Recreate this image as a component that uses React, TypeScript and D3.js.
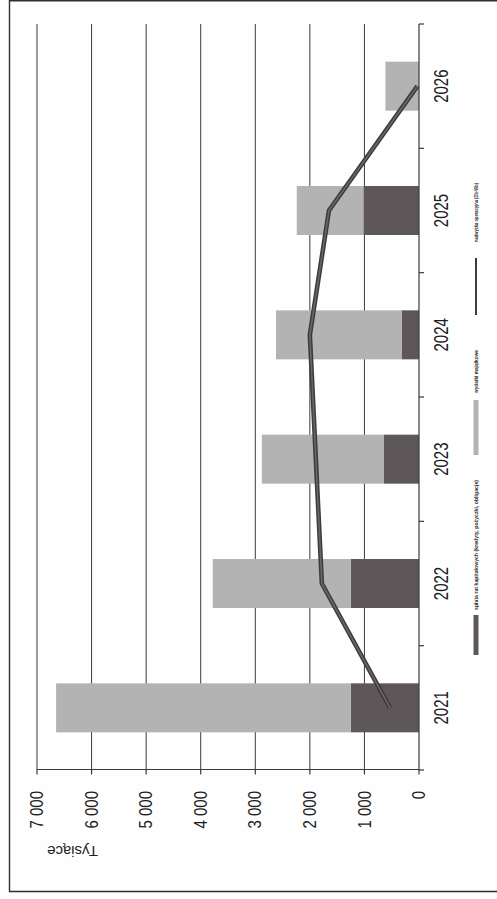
import React from "react";
import * as d3 from "d3";

// Budget forecast 2021–2026 (thousands PLN)
const years = ["2021", "2022", "2023", "2024", "2025", "2026"];
const repayments = [1250, 1250, 650, 320, 1020, 0]; // spłata rat kapitałowych
const capitalSpending = [5400, 2530, 2230, 2300, 1220, 615]; // wydatki majątkowe
const operatingSurplus = [530, 1780, 1890, 2000, 1650, 30]; // nadwyżka operacyjna
const valueTicks = [0, 1000, 2000, 3000, 4000, 5000, 6000, 7000];
const axisTitle = "Tysiące";
const legendLabels = [
  "spłata rat kapitałowych (kredyty, pożyczki, obligacje)",
  "wydatki majątkowe",
  "nadwyżka operacyjna (Db-Wb)",
];

const W = 497;
const H = 899;
// The chart is laid out landscape (H wide, W tall) and turned a quarter turn on the page.
const FONT = "'Liberation Sans', Arial, sans-serif";
const DARK = "#5d575a";
const LIGHT = "#b4b3b4";
const LINE = "#3f3b3d";
const GRID = "#3a3a3a";

const fmt = (v: number) => d3.format(",")(v).replace(/,/g, " ");

export default function App() {
  const x = d3.scaleBand<string>().domain(years).range([129, 875]).padding(0);
  const y = d3.scaleLinear().domain([0, 7000]).range([419, 37]);
  const barW = 49;
  const step = x.step();
  const cx = (yr: string) => (x(yr) as number) + step / 2;

  const stacked = d3
    .stack<number>()
    .keys(["rep", "cap"])
    .value((i, key) => (key === "rep" ? repayments[i] : capitalSpending[i]))(
    d3.range(years.length)
  );
  const fills = [DARK, LIGHT];

  const line = d3
    .line<number>()
    .x((_, i) => cx(years[i]))
    .y((v) => y(v));

  const boundaries = d3.range(years.length + 1).map((i) => 129 + i * step);

  const legendY = 476;
  const legendItems = [
    { kind: "rect", color: DARK, s0: 244, s1: 284, t0: 289, t1: 419 },
    { kind: "rect", color: LIGHT, s0: 444, s1: 499, t0: 506, t1: 549 },
    { kind: "line", color: LINE, s0: 584, s1: 641, t0: 657, t1: 716 },
  ];

  return (
    <svg
      width={W}
      height={H}
      style={{ position: "absolute", left: 0, top: 0, background: "#fff" }}
      fontFamily={FONT}
    >
      <rect x={0} y={0} width={W} height={H} fill="#fefefe" />
      {/* outer frame */}
      <path
        d={`M${W + 2},0.8 L9.5,0.8 L9.5,891.5 L${W + 2},891.5`}
        fill="none"
        stroke="#2e2e2e"
        strokeWidth={1.4}
      />
      <g transform={`translate(0,${H}) rotate(-90)`}>
        {/* horizontal gridlines */}
        {valueTicks
          .filter((v) => v > 0)
          .map((v) => (
            <line
              key={"g" + v}
              x1={129}
              x2={875}
              y1={y(v)}
              y2={y(v)}
              stroke={GRID}
              strokeWidth={1}
            />
          ))}
        {/* stacked bars */}
        {stacked.map((layer, li) =>
          layer.map((d, i) => (
            <rect
              key={li + "-" + i}
              x={cx(years[i]) - barW / 2}
              width={barW}
              y={y(d[1])}
              height={Math.max(0, y(d[0]) - y(d[1]))}
              fill={fills[li]}
            />
          ))
        )}
        {/* value axis */}
        <line x1={129.5} x2={129.5} y1={37} y2={419} stroke={GRID} strokeWidth={1.2} />
        {valueTicks.map((v) => (
          <line key={"t" + v} x1={124.5} x2={129.5} y1={y(v)} y2={y(v)} stroke={GRID} strokeWidth={1.2} />
        ))}
        {valueTicks.map((v) => (
          <g key={"l" + v} transform={`translate(108,${y(v)}) scale(1,1.25)`}>
            <text textAnchor="end" dominantBaseline="central" fontSize={15} fill="#1e1e1e">
              {fmt(v)}
            </text>
          </g>
        ))}
        <text
          transform={`translate(53,72.5) rotate(-90)`}
          textAnchor="middle"
          fontSize={15}
          fill="#1e1e1e"
        >
          {axisTitle}
        </text>
        {/* category axis */}
        <line x1={129} x2={875} y1={419} y2={419} stroke={GRID} strokeWidth={1.2} />
        {boundaries.map((b, i) => (
          <line key={"c" + i} x1={b} x2={b} y1={419} y2={424} stroke={GRID} strokeWidth={1.2} />
        ))}
        {years.map((yr) => (
          <g key={"y" + yr} transform={`translate(${cx(yr)},448) scale(1,1.4)`}>
            <text textAnchor="middle" fontSize={15} fill="#1e1e1e">
              {yr}
            </text>
          </g>
        ))}
        {/* operating surplus line */}
        <path d={line(operatingSurplus) || ""} fill="none" stroke={LINE} strokeWidth={4.6} strokeLinejoin="round" />
        <path d={line(operatingSurplus) || ""} fill="none" stroke="#6a6668" strokeWidth={1.6} strokeLinejoin="round" />
        {/* legend */}
        {legendItems.map((it, i) => (
          <g key={"lg" + i}>
            {it.kind === "rect" ? (
              <rect x={it.s0} y={legendY - 2.5} width={it.s1 - it.s0} height={5} fill={it.color} />
            ) : (
              <line x1={it.s0} x2={it.s1} y1={legendY} y2={legendY} stroke={it.color} strokeWidth={2} />
            )}
            <text
              x={it.t0}
              y={legendY + 2}
              fontSize={5.4}
              fontWeight="bold"
              fill="#2a2a2a"
              textLength={it.t1 - it.t0}
              lengthAdjust="spacingAndGlyphs"
            >
              {legendLabels[i]}
            </text>
          </g>
        ))}
      </g>
    </svg>
  );
}
